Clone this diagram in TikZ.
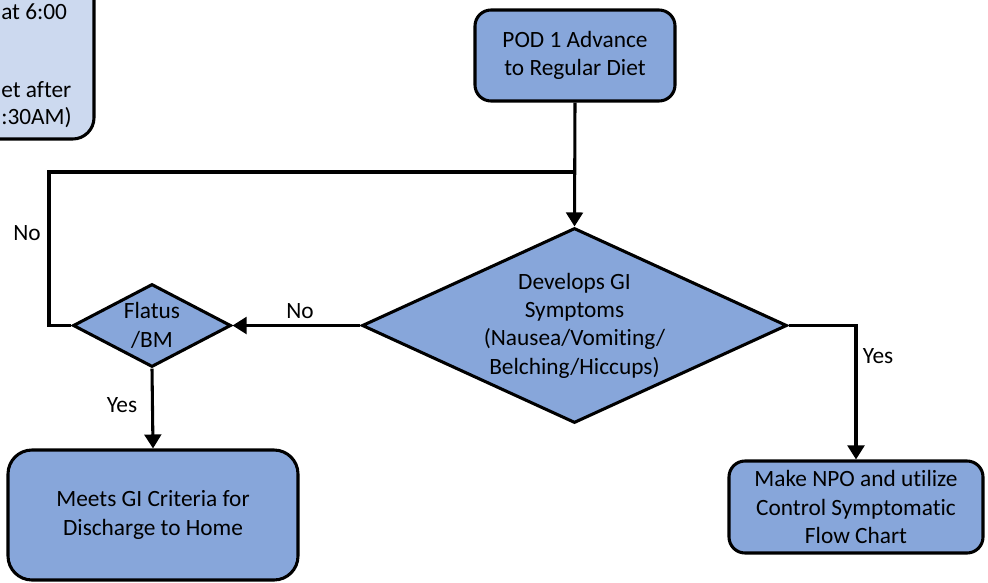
\documentclass[tikz,border=0pt]{standalone}
\usepackage{fontspec}
\setmainfont{Carlito}[Ligatures={NoCommon}]
\usetikzlibrary{shapes.geometric,arrows.meta}
\definecolor{boxblue}{HTML}{87A6DA}
\definecolor{paleblue}{HTML}{CCD9EF}
\tikzset{
  base/.style={font=\fontsize{17.5}{21.2}\selectfont, text=black},
  flowbox/.style={base, draw=black, line width=2.3pt, fill=boxblue, rounded corners=12pt, align=center, inner sep=0pt},
  decision/.style={base, draw=black, line width=2.3pt, fill=boxblue, shape=diamond, align=center, inner sep=-30pt},
  conn/.style={draw=black, line width=2.3pt},
  arr/.style={conn, -{Triangle[width=12.5pt,length=10.5pt]}},
  lbl/.style={base, inner sep=0pt},
}
\begin{document}
\begin{tikzpicture}[x=0.75pt,y=-0.75pt]
\useasboundingbox (0,0) rectangle (988,582);
% partially visible box at top left
\begin{scope}
\clip (0,0) rectangle (988,582);
\draw[line width=2.3pt, fill=paleblue, rounded corners=16pt] (-60,-60) rectangle (94,139);
\node[lbl, anchor=base west] (tl1) at (1,19) {at 6:00};
\node[lbl, anchor=base west] (tl2) at (1,97) {et after};
\node[lbl, anchor=base west] (tl3) at (1,124) {:30AM)};
\end{scope}

\node[flowbox, minimum width=150pt, minimum height=68.25pt] (pod) at (575,55.5) {POD 1 Advance\\to Regular Diet};
\node[decision, minimum width=318.75pt, minimum height=146.25pt] (gi) at (574.5,325.5) {Develops GI\\Symptoms\\(Nausea/Vomiting/\\Belching/Hiccups)};
\node[decision, minimum width=118.5pt, minimum height=62.25pt, inner sep=-20pt] (fl) at (152,325.5) {Flatus\\/BM};
\node[flowbox, rounded corners=18pt, minimum width=217.5pt, minimum height=97.5pt] (meets) at (153,515) {Meets GI Criteria for\\Discharge to Home};
\node[flowbox, minimum width=190.5pt, minimum height=69pt] (npo) at (856,507) {Make NPO and utilize\\Control Symptomatic\\Flow Chart};

\coordinate (j) at (575,172);
\coordinate (lc) at (49,172);

\draw[arr] (pod.south) -- (gi.north);
\draw[arr] (gi.west) -- (fl.east);
\draw[conn] (fl.west) -| (lc) -- (j);
\draw[arr] (fl.south) -- (meets.north);
\draw[arr] (gi.east) -| (npo.north);

\node[lbl] (no1) at (300,311) {No};
\node[lbl] (no2) at (27,233) {No};
\node[lbl] (yes1) at (122,405) {Yes};
\node[lbl] (yes2) at (878,356) {Yes};
\end{tikzpicture}
\end{document}
